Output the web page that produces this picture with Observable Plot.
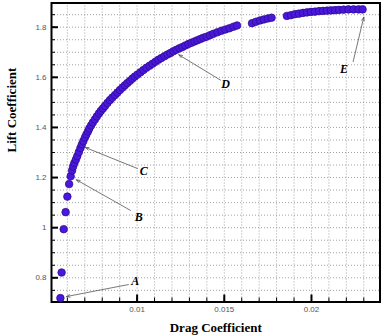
<!DOCTYPE html>
<html>
<head>
<meta charset="utf-8">
<script src="https://cdn.jsdelivr.net/npm/d3@7"></script>
<script src="https://cdn.jsdelivr.net/npm/@observablehq/plot@0.6"></script>
<style>
  body { margin: 0; background: #fff; }
  #chart svg { display: block; }
</style>
</head>
<body>
<div id="chart"></div>
<script>
// Pareto front of airfoil designs: drag coefficient vs lift coefficient
const dragCoef = [
  0.00560, 0.00567, 0.00579, 0.00590, 0.00600, 0.00610, 0.00619, 0.00627, 0.00633, 0.00640,
  0.00649, 0.00657, 0.00666, 0.00675, 0.00683, 0.00692, 0.00701, 0.00709, 0.00718, 0.00726,
  0.00736, 0.00746, 0.00758, 0.00769, 0.00781, 0.00792, 0.00804, 0.00816, 0.00830, 0.00844,
  0.00858, 0.00873, 0.00887, 0.00901, 0.00916, 0.00930, 0.00944, 0.00959, 0.00973, 0.00987,
  0.01002, 0.01019, 0.01036, 0.01053, 0.01071, 0.01088, 0.01105, 0.01122, 0.01139, 0.01157,
  0.01174, 0.01191, 0.01208, 0.01225, 0.01243, 0.01260, 0.01277, 0.01294, 0.01312, 0.01329,
  0.01346, 0.01363, 0.01380, 0.01398, 0.01418, 0.01438, 0.01461, 0.01484, 0.01507, 0.01530,
  0.01553, 0.01573, 0.01659, 0.01682, 0.01705, 0.01727, 0.01750, 0.01771, 0.01859, 0.01882,
  0.01905, 0.01928, 0.01951, 0.01974, 0.01997, 0.02020, 0.02043, 0.02066, 0.02089, 0.02112,
  0.02135, 0.02158, 0.02184, 0.02212, 0.02241, 0.02270, 0.02293
];
const liftCoef = [
  0.719, 0.821, 0.994, 1.062, 1.124, 1.174, 1.205, 1.228, 1.244, 1.258,
  1.272, 1.286, 1.302, 1.318, 1.332, 1.346, 1.360, 1.372, 1.384, 1.396,
  1.408, 1.420, 1.432, 1.444, 1.456, 1.466, 1.476, 1.486, 1.498, 1.509,
  1.519, 1.529, 1.539, 1.549, 1.559, 1.568, 1.577, 1.586, 1.595, 1.603,
  1.611, 1.620, 1.629, 1.638, 1.646, 1.654, 1.662, 1.670, 1.677, 1.684,
  1.691, 1.697, 1.704, 1.710, 1.716, 1.721, 1.727, 1.733, 1.738, 1.743,
  1.748, 1.753, 1.758, 1.762, 1.768, 1.774, 1.780, 1.786, 1.791, 1.796,
  1.802, 1.807, 1.816, 1.822, 1.827, 1.831, 1.835, 1.838, 1.845, 1.848,
  1.852, 1.854, 1.857, 1.859, 1.861, 1.862, 1.864, 1.865, 1.866, 1.867,
  1.868, 1.869, 1.870, 1.871, 1.871, 1.871, 1.871
];

// Axis ticks
const xMajorTicks = [0.01, 0.015, 0.02];
const yMajorTicks = [0.8, 1, 1.2, 1.4, 1.6, 1.8];
const xMinorTicks = d3.range(6, 24).map(i => i / 1000);
const yMinorTicks = d3.range(15, 38).map(i => i / 20);

// Labelled designs A–E with their callout arrows
const callLabels = ["A", "B", "C", "D", "E"];
const callLabelX = [0.00990, 0.01009, 0.01038, 0.01507, 0.02187];
const callLabelY = [0.786, 1.042, 1.224, 1.574, 1.634];
const callFromX = [0.00950, 0.00962, 0.01002, 0.01478, 0.02239];
const callFromY = [0.773, 1.069, 1.236, 1.589, 1.663];
const callToX = [0.00594, 0.00652, 0.00703, 0.01239, 0.02300];
const callToY = [0.725, 1.191, 1.320, 1.690, 1.840];

const points = dragCoef.map((cd, i) => ({cd, cl: liftCoef[i]}));
const callouts = callLabels.map((label, i) => ({
  label,
  lx: callLabelX[i], ly: callLabelY[i],
  x1: callFromX[i], y1: callFromY[i],
  x2: callToX[i], y2: callToY[i]
}));

const serif = "'Liberation Serif', 'Times New Roman', serif";

const chart = Plot.plot({
  width: 382,
  height: 336,
  marginLeft: 51,
  marginRight: 2.5,
  marginTop: 2.5,
  marginBottom: 34.5,
  style: {background: "white", fontFamily: "'Liberation Sans', Arial, sans-serif"},
  x: {domain: [0.00509, 0.02393]},
  y: {domain: [0.7034, 1.8966]},
  marks: [
    Plot.gridX(xMinorTicks, {stroke: "#8a8a8a", strokeOpacity: 1, strokeWidth: 0.8, strokeDasharray: "1,2"}),
    Plot.gridY(yMinorTicks, {stroke: "#8a8a8a", strokeOpacity: 1, strokeWidth: 0.8, strokeDasharray: "1,2"}),
    Plot.axisX(xMinorTicks, {tickSize: -4, tickFormat: () => "", label: null, stroke: "black"}),
    Plot.axisY(yMinorTicks, {tickSize: -4, tickFormat: () => "", label: null, stroke: "black"}),
    Plot.axisX(xMajorTicks, {
      tickSize: -7, tickPadding: 11, strokeWidth: 2, stroke: "black", fill: "#555",
      fontSize: 8, tickFormat: d => String(d), label: null
    }),
    Plot.axisY(yMajorTicks, {
      tickSize: -7, tickPadding: 12, strokeWidth: 2, stroke: "black", fill: "#555",
      fontSize: 8, tickFormat: d => String(+d.toFixed(1)), label: null
    }),
    Plot.frame({stroke: "black", strokeWidth: 2}),
    Plot.arrow(callouts, {
      x1: "x1", y1: "y1", x2: "x2", y2: "y2",
      stroke: "#555", strokeWidth: 0.8, headLength: 7, headAngle: 40
    }),
    Plot.dot(points, {x: "cd", y: "cl", r: 3.8, fill: "#4a17dc", stroke: "#2a0a8a", strokeWidth: 0.7}),
    Plot.text(callouts, {
      x: "lx", y: "ly", text: "label",
      fontFamily: serif, fontWeight: "bold", fontStyle: "italic", fontSize: 12, fill: "black"
    }),
    Plot.text(["Drag Coefficient"], {
      frameAnchor: "bottom", dy: 30, lineAnchor: "bottom",
      fontFamily: serif, fontWeight: "bold", fontSize: 13, fill: "black"
    }),
    Plot.text(["Lift Coefficient"], {
      frameAnchor: "left", dx: -40, rotate: -90,
      fontFamily: serif, fontWeight: "bold", fontSize: 13, fill: "black"
    })
  ]
});

document.getElementById("chart").append(chart);
</script>
</body>
</html>
